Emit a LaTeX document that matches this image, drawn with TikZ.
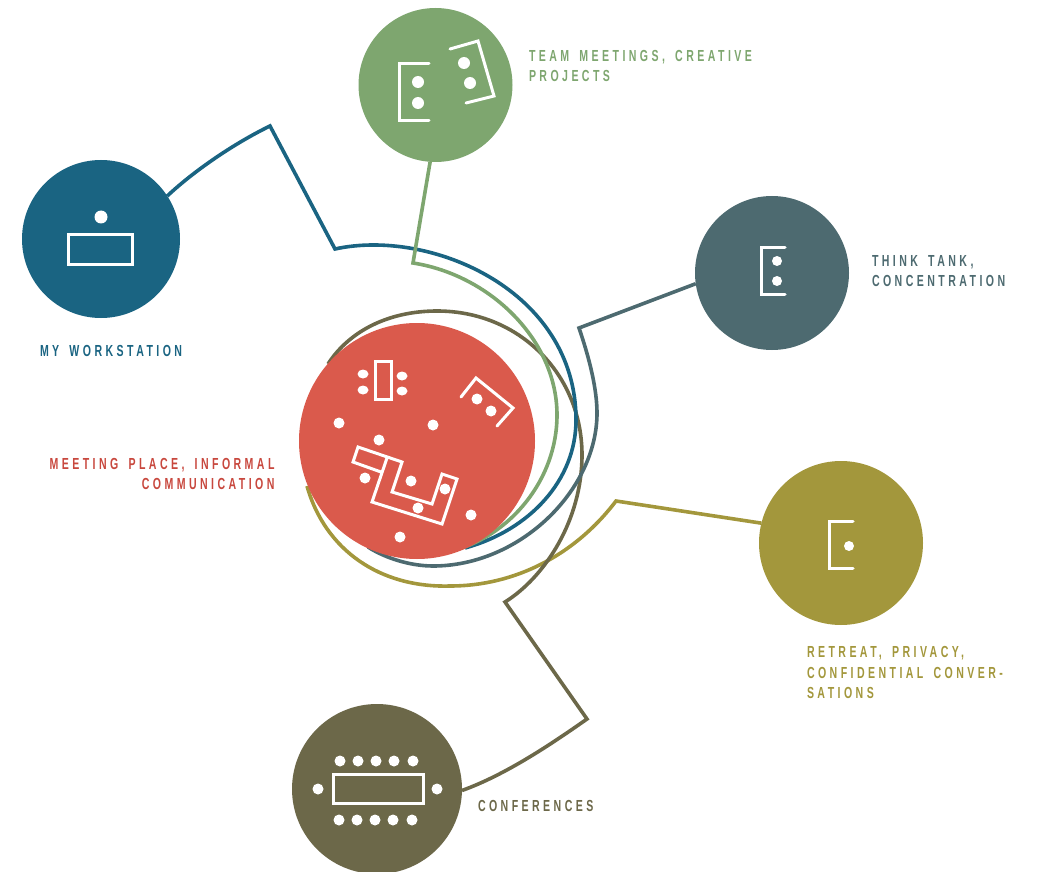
\documentclass[tikz,border=0pt]{standalone}
\usepackage{fontspec}
\setmainfont[FakeStretch=0.66,LetterSpace=21.5,WordSpace=1.6]{Liberation Sans}
\definecolor{cred}{HTML}{DA5A4C}
\definecolor{credt}{HTML}{C8483E}
\definecolor{cblue}{HTML}{1A6482}
\definecolor{cgreen}{HTML}{7EA66F}
\definecolor{cslate}{HTML}{4D6A70}
\definecolor{cyel}{HTML}{A3973C}
\definecolor{cdark}{HTML}{6C6849}
\tikzset{
  disc/.style={circle,inner sep=0pt,outer sep=0pt},
  wire/.style={line width=3.6pt,line join=miter},
  icon/.style={draw=white,line width=3pt,line join=miter},
  lab/.style={inner sep=0pt,outer sep=0pt,font=\fontsize{16}{20.5}\selectfont\bfseries},
}
\newcommand{\seats}[2][5.5]{\foreach \p in {#2} \fill[white] \p circle (#1);}
\begin{document}
\begin{tikzpicture}[x=1pt,y=-1pt]
\useasboundingbox (0,0) rectangle (1037,872);
% nodes
\node[disc,minimum size=236pt] (red) at (417,441) {};
\node[disc,fill=cblue,minimum size=158pt] (ws) at (101,239) {};
\node[disc,fill=cgreen,minimum size=154pt] (team) at (435.5,85) {};
\node[disc,fill=cslate,minimum size=154pt] (tank) at (772,273) {};
\node[disc,fill=cyel,minimum size=164pt] (retreat) at (841,543) {};
\node[disc,fill=cdark,minimum size=170pt] (conf) at (377,789) {};
% connectors
\draw[wire,cyel] (retreat.166) -- (616,501) .. controls (575,555) and (515,586) .. (450,586) .. controls (380,588) and (325,550) .. (307,486);
\draw[wire,cdark] (conf.-1) .. controls (505,775) and (550,745) .. (587,719) -- (505,602) .. controls (545,577) and (582,520) .. (582,455) .. controls (582,375) and (520,311) .. (437,311) .. controls (390,311) and (350,330) .. (328,364);
\draw[wire,cblue] (ws.33) .. controls (195,170) and (235,143) .. (270,126) -- (335,249) .. controls (430,228) and (576,290) .. (576,420) .. controls (576,480) and (530,530) .. (465,548);
\draw[wire,cgreen] (team.-94) -- (413,263) .. controls (490,275) and (557,340) .. (557,415) .. controls (557,480) and (510,535) .. (455,550);
\draw[wire,cslate] (tank.-172) -- (579,328) .. controls (590,360) and (597,390) .. (597,413) .. controls (597,490) and (520,566) .. (433,566) .. controls (410,566) and (385,558) .. (368,547);
\fill[cred] (red.center) circle (118);
% icons
\draw[icon] (68,234) rectangle (132,264);
\seats[6.5]{(101,217)}
\draw[icon,line cap=round] (429,64) -- (399,64) -- (399,121) -- (429,121);
\draw[icon,line cap=round] (450,49) -- (478,41) -- (494,96) -- (466,103);
\seats[6]{(418,82),(418,103),(464,63),(470,83)}
\draw[icon,line cap=round] (785,247) -- (761,247) -- (761,294) -- (785,294);
\seats[5]{(777,261),(777,281)}
\draw[icon,line cap=round] (853,521) -- (829,521) -- (829,568) -- (853,568);
\seats[5]{(849,546)}
\draw[icon] (333,774) rectangle (423,803);
\seats{(340,761),(358,761),(376,761),(394,761),(413,761),(339,820),(357,820),(375,820),(393,820),(412,820),(318,789),(437,789)}
\draw[icon] (375,361) rectangle (391,399);
\foreach \p in {(363,374),(363,390),(402,376),(402,391)} \fill[white] \p ellipse (5.5 and 4.5);
\draw[icon,line cap=round] (461,397) -- (476,378) -- (513,408) -- (497,426);
\seats{(477,399),(491,411),(339,423),(433,425),(379,440),(365,478),(411,481),(445,489),(418,508),(471,515),(400,537)}
\draw[icon] (387,458) -- (372,502) -- (442,524) -- (457,479) -- (442,474) -- (432,504) -- (392,492) -- (402,462) -- (358,447) -- (353,462) -- (381,472);
% labels
\node[lab,cblue,anchor=west] (l1) at (40,351) {MY WORKSTATION};
\node[lab,cgreen,anchor=west,align=left] (l2) at (529,66) {TEAM MEETINGS, CREATIVE\\PROJECTS};
\node[lab,cslate,anchor=west,align=left] (l3) at (872,271) {THINK TANK,\\CONCENTRATION};
\node[lab,credt,anchor=east,align=right] (l4) at (274.5,474) {MEETING PLACE, INFORMAL\\COMMUNICATION};
\node[lab,cyel,anchor=west,align=left] (l5) at (807,672.5) {RETREAT, PRIVACY,\\CONFIDENTIAL CONVER-\\SATIONS};
\node[lab,cdark,anchor=west] (l6) at (478,806) {CONFERENCES};
\end{tikzpicture}
\end{document}
